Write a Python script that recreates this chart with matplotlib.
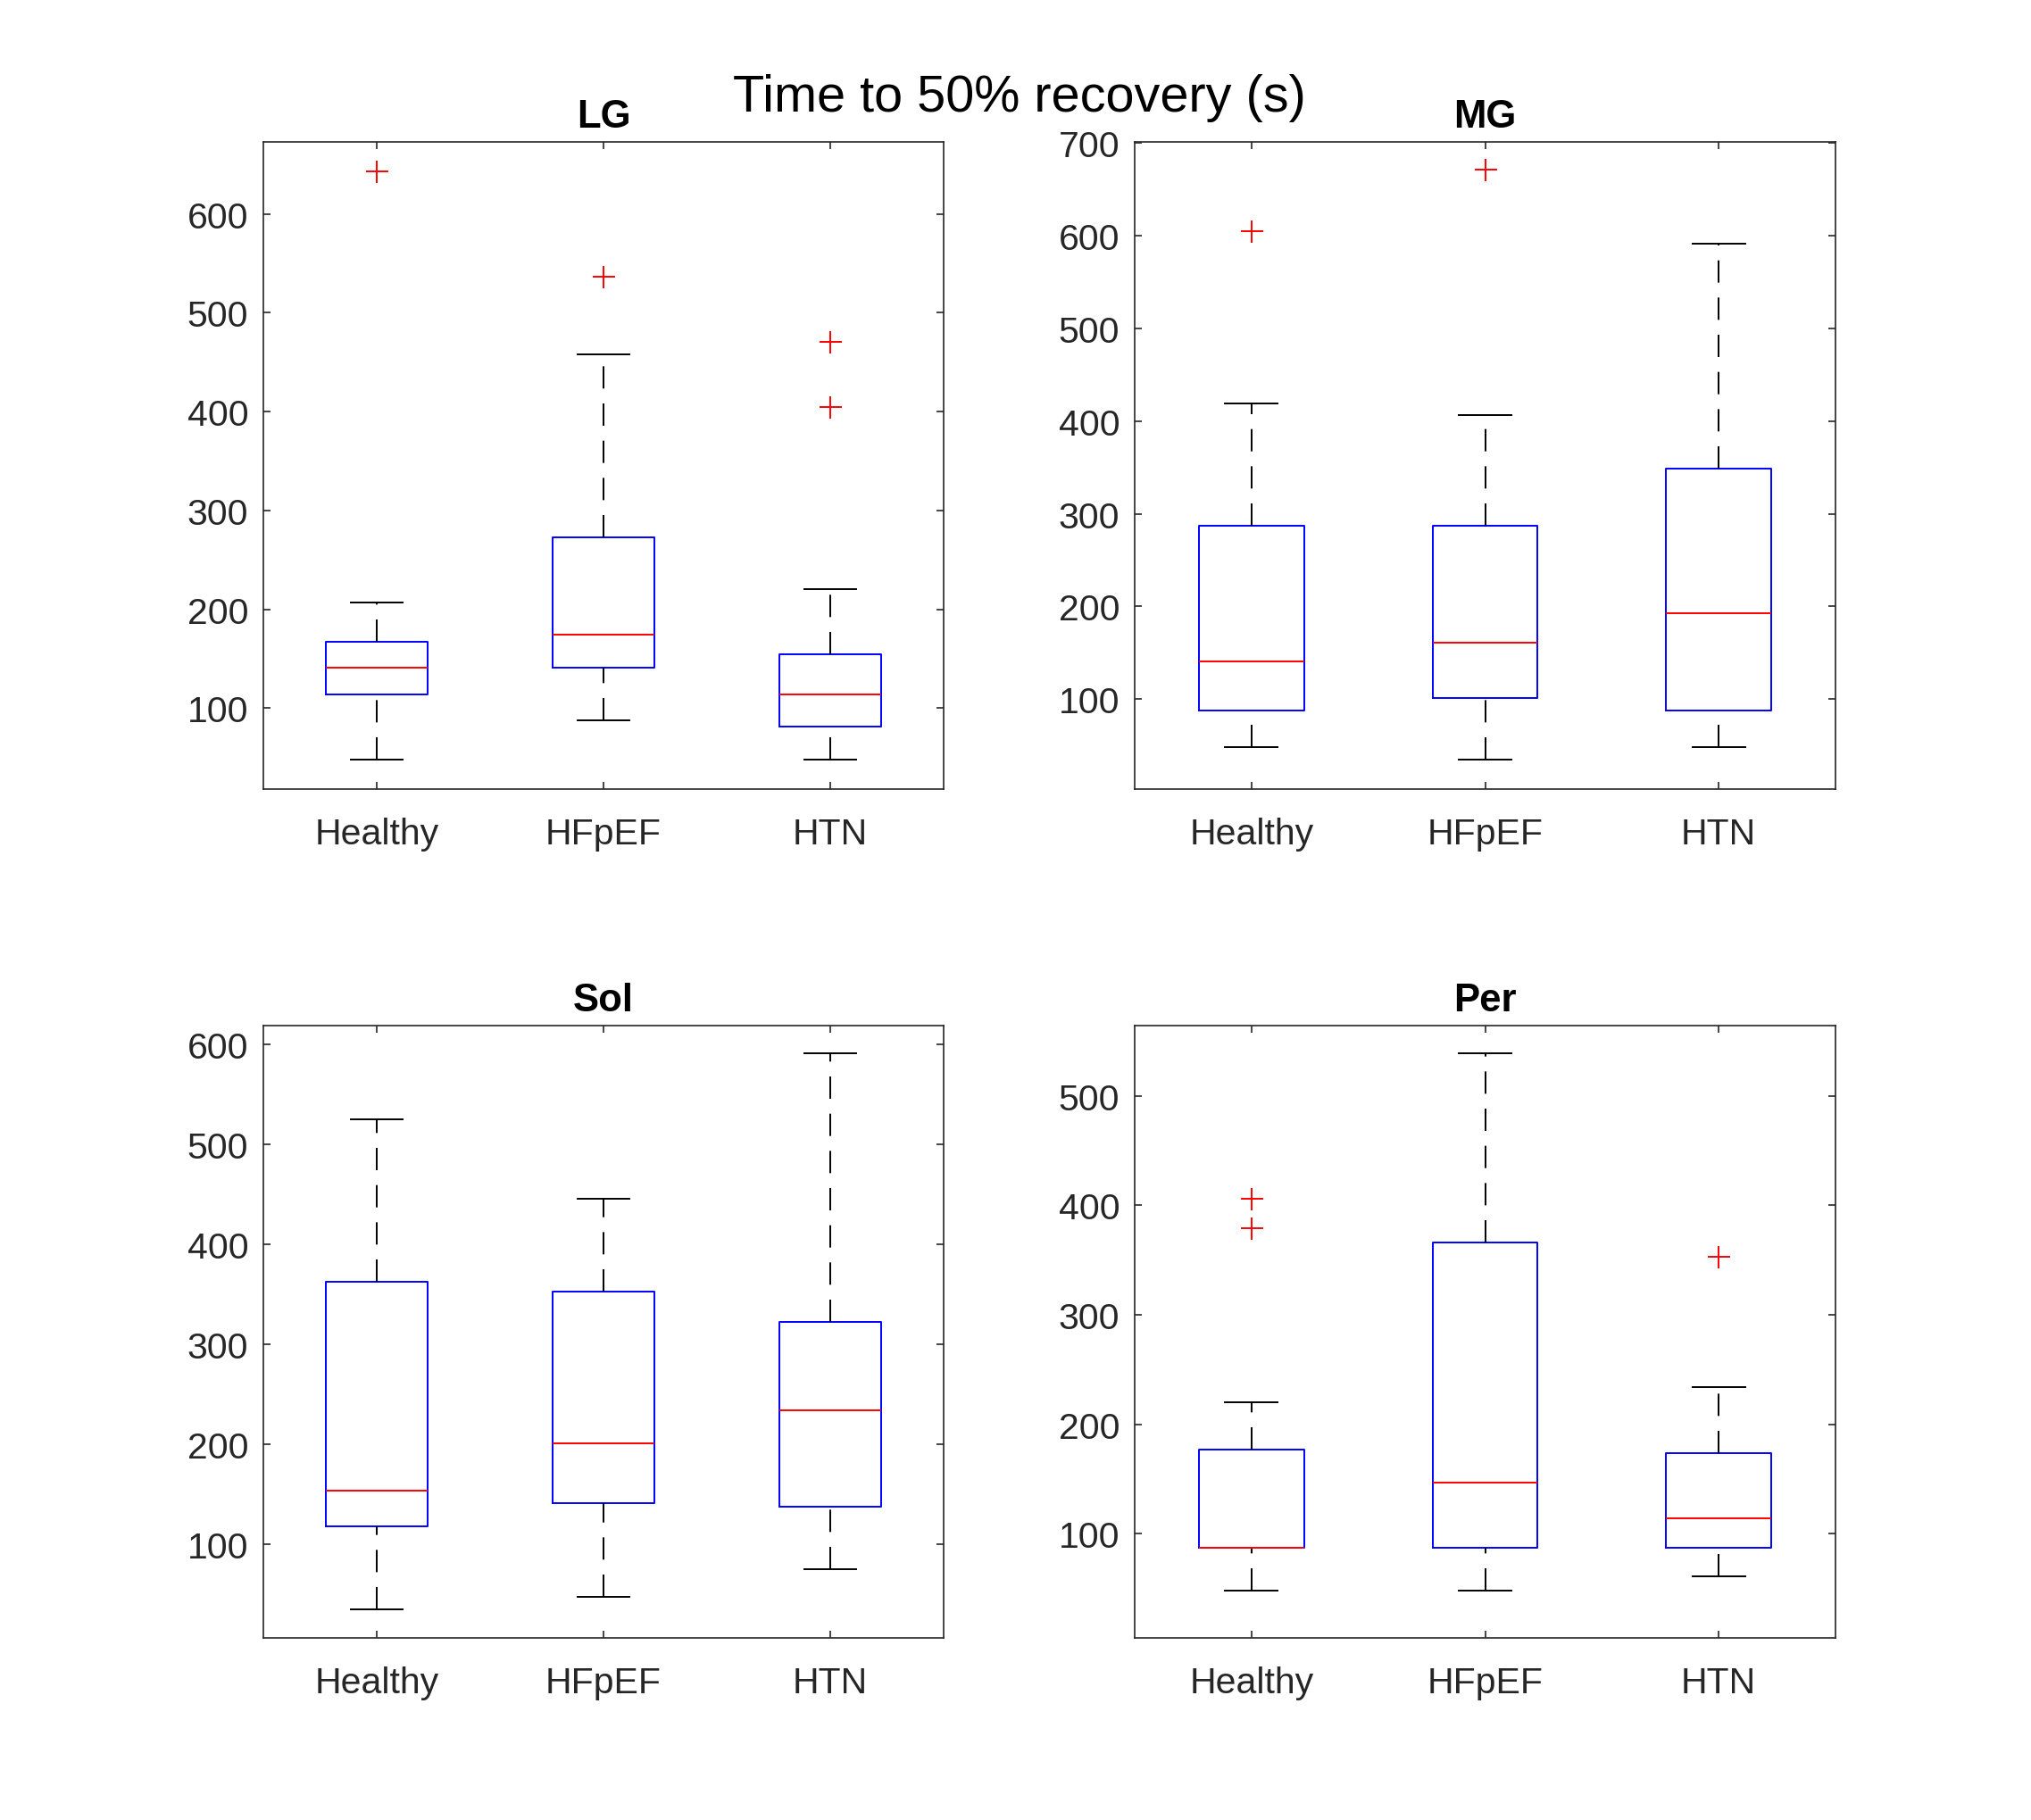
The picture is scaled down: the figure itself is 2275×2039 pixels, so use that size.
import matplotlib
matplotlib.use('Agg')
import matplotlib.pyplot as plt

plt.rcParams['font.family'] = ['Liberation Sans', 'DejaVu Sans']
plt.rcParams['lines.scale_dashes'] = False

groups = ['Healthy', 'HFpEF', 'HTN']
panel_names = ['LG', 'MG', 'Sol', 'Per']

# Box statistics (order: Healthy, HFpEF, HTN)
lg_whislo = [48, 88, 48]
lg_q1 = [114, 141, 81]
lg_med = [141, 174, 114]
lg_q3 = [167, 273, 154]
lg_whishi = [207, 458, 220]
lg_fliers = [[643], [537], [471, 405]]

mg_whislo = [48, 35, 48]
mg_q1 = [88, 101, 88]
mg_med = [141, 161, 193]
mg_q3 = [287, 287, 349]
mg_whishi = [419, 406, 591]
mg_fliers = [[605], [671], []]

sol_whislo = [35, 48, 75]
sol_q1 = [118, 141, 138]
sol_med = [154, 201, 234]
sol_q3 = [363, 353, 323]
sol_whishi = [525, 446, 591]
sol_fliers = [[], [], []]

per_whislo = [48, 48, 61]
per_q1 = [87, 87, 87]
per_med = [87, 147, 114]
per_q3 = [177, 366, 174]
per_whishi = [220, 539, 234]
per_fliers = [[406, 379], [], [353]]

panel_data = [
    (lg_whislo, lg_q1, lg_med, lg_q3, lg_whishi, lg_fliers),
    (mg_whislo, mg_q1, mg_med, mg_q3, mg_whishi, mg_fliers),
    (sol_whislo, sol_q1, sol_med, sol_q3, sol_whishi, sol_fliers),
    (per_whislo, per_q1, per_med, per_q3, per_whishi, per_fliers),
]

ylims = [(18, 673), (3, 701), (6.5, 619), (5, 564)]
yticks = [[100, 200, 300, 400, 500, 600],
          [100, 200, 300, 400, 500, 600, 700],
          [100, 200, 300, 400, 500, 600],
          [100, 200, 300, 400, 500]]

W, H = 2275, 2040
fig = plt.figure(figsize=(W / 100, H / 100), dpi=100)

positions = [
    [295 / W, 1 - 885 / H, 762 / W, 725 / H],
    [1271 / W, 1 - 885 / H, 785 / W, 725 / H],
    [295 / W, 1 - 1836 / H, 762 / W, 686 / H],
    [1271 / W, 1 - 1836 / H, 785 / W, 686 / H],
]

axcol = '#262626'
for name, pos, data, yl, yt in zip(panel_names, positions, panel_data, ylims, yticks):
    ax = fig.add_axes(pos)
    wlo, q1, med, q3, whi, fl = data
    stats = []
    for i in range(len(groups)):
        stats.append(dict(whislo=wlo[i], q1=q1[i], med=med[i], q3=q3[i],
                          whishi=whi[i], fliers=fl[i], label=groups[i]))
    res = ax.bxp(stats, positions=[1, 2, 3], widths=0.45, capwidths=0.225,
                 showfliers=True,
                 boxprops=dict(color='#0000FF', linewidth=1.4),
                 medianprops=dict(color='#FF0000', linewidth=1.4),
                 whiskerprops=dict(color='black', linewidth=1.4,
                                   linestyle=(0, (18, 12))),
                 capprops=dict(color='black', linewidth=1.4),
                 flierprops=dict(marker='+', markeredgecolor='#FF0000',
                                 markersize=18, markeredgewidth=1.4,
                                 linestyle='none'))
    # draw lower whiskers bottom-to-top like MATLAB
    for k, ln in enumerate(res['whiskers']):
        if k % 2 == 0:
            x, y = ln.get_data()
            ln.set_data(list(x)[::-1], list(y)[::-1])
    ax.set_xlim(0.5, 3.5)
    ax.set_ylim(*yl)
    ax.set_yticks(yt)
    ax.set_xticks([1, 2, 3])
    ax.set_xticklabels(groups)
    ax.tick_params(axis='both', direction='in', length=5.8, width=1.2,
                   color=axcol, labelcolor=axcol, labelsize=29.5,
                   top=True, right=True)
    ax.tick_params(axis='x', pad=22)
    ax.tick_params(axis='y', pad=12)
    for sp in ax.spines.values():
        sp.set_color(axcol)
        sp.set_linewidth(1.2)
    ax.set_title(name, fontsize=31.5, fontweight='bold', pad=12, color='black')

fig.text(0.502, 1 - 125 / H, 'Time to 50% recovery (s)', ha='center',
         va='baseline', fontsize=41.5, color='black')

fig.savefig('out.png', dpi=100)
